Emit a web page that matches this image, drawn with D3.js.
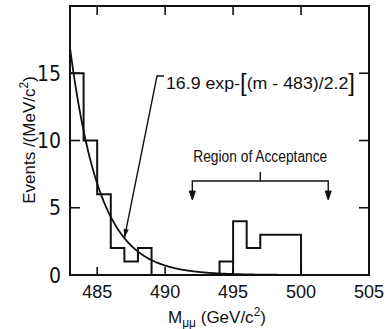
<!DOCTYPE html>
<html>
<head>
<meta charset="utf-8">
<script src="https://cdn.jsdelivr.net/npm/d3@7"></script>
<style>
  html, body { margin: 0; padding: 0; background: #fff; }
  svg { display: block; }
  text { font-family: "Liberation Sans", Arial, sans-serif; fill: #111; }
</style>
</head>
<body>
<svg id="chart" width="387" height="329"></svg>
<script>
// Dimuon invariant-mass histogram, 1 GeV/c^2 bins starting at 483
const binLow = [483, 484, 485, 486, 487, 488, 489, 490, 491, 492, 493, 494, 495, 496, 497, 498, 499];
const binCounts = [15, 10, 6, 2, 1, 2, 0, 0, 0, 0, 0, 1, 4, 2, 3, 3, 3];
const binWidth = 1;
// bin edges that are drawn down to the baseline inside a cluster
const innerEdges = [495];

// fitted background: A * exp(-(m - m0) / slope)
const fitA = 16.9, fitM0 = 483, fitSlope = 2.2;
const fitLabelM = 487;               // where the fit label arrow lands

// acceptance window
const acceptLo = 492, acceptHi = 502;

// axes
const xDomain = [483, 505];
const yDomain = [0, 20];
const xTicks = [485, 490, 495, 500, 505];
const xTickMarks = [485, 490, 495, 500];
const yTicks = [0, 5, 10, 15];
const yTickMarks = [5, 10, 15];

const svg = d3.select("#chart");
const x = d3.scaleLinear().domain(xDomain).range([70, 369]);
const y = d3.scaleLinear().domain(yDomain).range([275, 6]);
const ink = "#111";

// clip for curves inside the frame
svg.append("clipPath").attr("id", "plot")
  .append("rect").attr("x", x(xDomain[0])).attr("y", y(yDomain[1]))
  .attr("width", x(xDomain[1]) - x(xDomain[0])).attr("height", y(0) - y(yDomain[1]));

// frame
svg.append("rect")
  .attr("x", x(xDomain[0])).attr("y", y(yDomain[1]))
  .attr("width", x(xDomain[1]) - x(xDomain[0]))
  .attr("height", y(0) - y(yDomain[1]))
  .attr("fill", "none").attr("stroke", ink).attr("stroke-width", 2);

// inward tick marks on all four sides
const tickG = svg.append("g").attr("stroke", ink).attr("stroke-width", 1.6);
xTickMarks.forEach(v => {
  tickG.append("line").attr("x1", x(v)).attr("x2", x(v)).attr("y1", y(0)).attr("y2", y(0) - 8);
  tickG.append("line").attr("x1", x(v)).attr("x2", x(v)).attr("y1", y(yDomain[1])).attr("y2", y(yDomain[1]) + 9);
});
yTickMarks.forEach(v => {
  tickG.append("line").attr("x1", x(xDomain[0])).attr("x2", x(xDomain[0]) + 10).attr("y1", y(v)).attr("y2", y(v));
  tickG.append("line").attr("x1", x(xDomain[1])).attr("x2", x(xDomain[1]) - 10).attr("y1", y(v)).attr("y2", y(v));
});

// tick labels
svg.append("g").selectAll("text").data(xTicks).join("text")
  .attr("x", d => x(d)).attr("y", 298)
  .attr("text-anchor", "middle").attr("font-size", 18)
  .text(d => d);
svg.append("g").selectAll("text").data(yTicks).join("text")
  .attr("x", 61).attr("y", d => y(d) + 7.5)
  .attr("text-anchor", "end").attr("font-size", 21)
  .style("font-family", '"Liberation Sans Narrow", "DejaVu Sans Condensed", sans-serif')
  .text(d => d);

// axis titles
const xt = svg.append("text").attr("x", 217).attr("y", 323)
  .attr("text-anchor", "middle").attr("font-size", 17);
xt.append("tspan").text("M");
xt.append("tspan").attr("font-size", 12).attr("dy", 4).text("μμ");
xt.append("tspan").attr("dy", -4).text(" (GeV/c");
xt.append("tspan").attr("font-size", 12).attr("dy", -7).text("2");
xt.append("tspan").attr("dy", 7).text(")");

const yt = svg.append("text").attr("transform", "translate(35,140) rotate(-90)")
  .attr("text-anchor", "middle").attr("font-size", 17);
yt.append("tspan").text("Events /(MeV/c");
yt.append("tspan").attr("font-size", 12).attr("dy", -7).text("2");
yt.append("tspan").attr("dy", 7).text(")");

// histogram outline
const histPts = [[binLow[0], 0]]
  .concat(binLow.map((b, i) => [b, binCounts[i]]))
  .concat([[binLow[binLow.length - 1] + binWidth, 0]]);
const stepLine = d3.line().x(d => x(d[0])).y(d => y(d[1])).curve(d3.curveStepAfter);
svg.append("path").attr("d", stepLine(histPts))
  .attr("fill", "none").attr("stroke", ink).attr("stroke-width", 2)
  .attr("stroke-linejoin", "miter");
innerEdges.forEach(e => {
  const i = binLow.indexOf(e);
  const h = Math.min(binCounts[i - 1], binCounts[i]);
  svg.append("line").attr("x1", x(e)).attr("x2", x(e)).attr("y1", y(0)).attr("y2", y(h))
    .attr("stroke", ink).attr("stroke-width", 2);
});

// fitted exponential
const fit = m => fitA * Math.exp(-(m - fitM0) / fitSlope);
const curvePts = d3.range(xDomain[0], xDomain[1] + 0.001, 0.05).map(m => [m, fit(m)]);
svg.append("path")
  .attr("d", d3.line().x(d => x(d[0])).y(d => y(d[1]))(curvePts))
  .attr("clip-path", "url(#plot)")
  .attr("fill", "none").attr("stroke", ink).attr("stroke-width", 1.8);

// fit label with leader arrow
const tipX = x(fitLabelM), tipY = y(fit(fitLabelM));
const cornerX = 157, cornerY = 76;
svg.append("path")
  .attr("d", `M${tipX},${tipY}L${cornerX},${cornerY}L${cornerX + 7},${cornerY}`)
  .attr("fill", "none").attr("stroke", ink).attr("stroke-width", 1.4);
{
  const ang = Math.atan2(tipY - cornerY, tipX - cornerX);
  const L = 9, W = 2.6;
  const bx = tipX - L * Math.cos(ang), by = tipY - L * Math.sin(ang);
  const px = -Math.sin(ang) * W, py = Math.cos(ang) * W;
  svg.append("path")
    .attr("d", `M${tipX},${tipY}L${bx + px},${by + py}L${bx - px},${by - py}Z`)
    .attr("fill", ink);
}
const ft = svg.append("text").attr("x", 166).attr("y", 89).attr("font-size", 17)
  .attr("textLength", 189).attr("lengthAdjust", "spacingAndGlyphs");
ft.append("tspan").text(`${fitA} exp-`);
ft.append("tspan").attr("font-size", 23).attr("dy", 2).text("[");
ft.append("tspan").attr("dy", -2).text(`(m - ${fitM0})/${fitSlope}`);
ft.append("tspan").attr("font-size", 23).attr("dy", 2).text("]");

// region of acceptance bracket
const bracketY = 181, arrowEndY = 200;
const midX = x((acceptLo + acceptHi) / 2);
const acc = svg.append("g").attr("stroke", ink).attr("stroke-width", 1.4).attr("fill", "none");
acc.append("path").attr("d",
  `M${x(acceptLo)},${arrowEndY - 6}V${bracketY}H${x(acceptHi)}V${arrowEndY - 6}M${midX},${bracketY}V${bracketY - 9}`);
[acceptLo, acceptHi].forEach(v => {
  svg.append("path")
    .attr("d", `M${x(v) - 3},${arrowEndY - 9}L${x(v) + 3},${arrowEndY - 9}L${x(v)},${arrowEndY}Z`)
    .attr("fill", ink).attr("stroke", ink).attr("stroke-width", 1);
});
svg.append("text").attr("x", midX).attr("y", 162)
  .attr("text-anchor", "middle").attr("font-size", 16)
  .attr("textLength", 134).attr("lengthAdjust", "spacingAndGlyphs")
  .text("Region of Acceptance");
</script>
</body>
</html>
